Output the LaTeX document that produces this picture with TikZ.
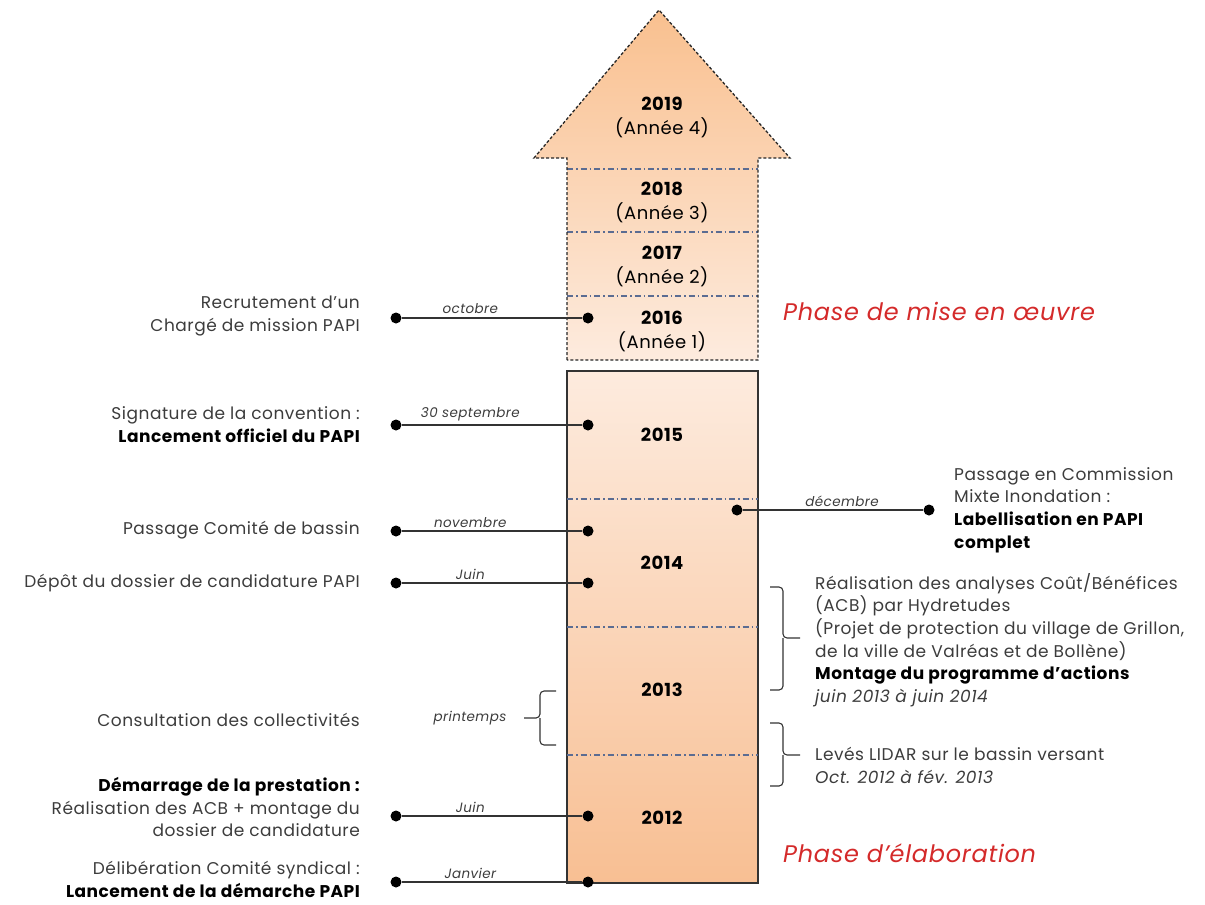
\documentclass[tikz,border=0pt]{standalone}
\usepackage{fontspec}
\setmainfont{Poppins}[LetterSpace=3]
\usetikzlibrary{positioning}
\definecolor{peachtop}{HTML}{F9C08F}
\definecolor{peachlight}{HTML}{FDEBDE}
\definecolor{peachdark}{HTML}{F8BF93}
\definecolor{sepblue}{HTML}{5B6C92}
\definecolor{phasered}{HTML}{D42A2A}
\definecolor{txtgray}{HTML}{3C3C3C}

\begin{document}
\begin{tikzpicture}[x=1pt, y=-1pt,
    dot/.style={circle, fill=black, inner sep=0pt, minimum size=11pt},
    year/.style={font=\fontsize{18}{24}\selectfont\bfseries, align=center},
    month/.style={font=\fontsize{13.5}{16}\selectfont\itshape, text=txtgray, above, pos=0.38},
    lefttxt/.style={anchor=east, align=right, inner sep=0pt, text=txtgray, font=\fontsize{17}{22.6}\selectfont},
    righttxt/.style={anchor=west, align=left, inner sep=0pt, text=txtgray, font=\fontsize{17}{22.6}\selectfont},
    phase/.style={anchor=west, inner sep=0pt, text=phasered, font=\fontsize{24}{28}\selectfont\itshape},
    sep/.style={sepblue, line width=1.1pt, dash pattern=on 6pt off 3pt on 1.5pt off 3pt},
    tie/.style={black!80, line width=1.1pt},
    bracket/.style={black!80, line width=1.1pt, rounded corners=4pt}]
  \useasboundingbox (0,0) rectangle (1205,905);

  % upper arrow: phase de mise en oeuvre
  \path[top color=peachtop, middle color=peachlight!90!peachtop, bottom color=peachlight]
    (567,360) -- (567,158) -- (534,158) -- (659,10) -- (790,158) -- (758,158) -- (758,360) -- cycle;
  \draw[sep] (567,169) -- (758,169);
  \draw[sep] (567,232) -- (758,232);
  \draw[sep] (567,296) -- (758,296);
  \draw[black!85, line width=1.3pt, densely dashed]
    (567,360) -- (567,158) -- (534,158) -- (659,10) -- (790,158) -- (758,158) -- (758,360) -- cycle;

  % lower box: phase d'elaboration
  \draw[black!80, line width=1.4pt, top color=peachlight, bottom color=peachdark]
    (567,371) rectangle (758,883);
  \draw[sep] (567,499) -- (758,499);
  \draw[sep] (567,627) -- (758,627);
  \draw[sep] (567,755) -- (758,755);

  % years
  \node[year] (y2019) at (662,117) {2019\\\mdseries(Année 4)};
  \node[year] (y2018) at (662,202) {2018\\\mdseries(Année 3)};
  \node[year] (y2017) at (662,266) {2017\\\mdseries(Année 2)};
  \node[year] (y2016) at (662,331) {2016\\\mdseries(Année 1)};
  \node[year] (y2015) at (662,435) {2015};
  \node[year] (y2014) at (662,563) {2014};
  \node[year] (y2013) at (662,690) {2013};
  \node[year] (y2012) at (662,818) {2012};

  % event dots
  \node[dot] (recrutL) at (396,318) {};
  \node[dot] (recrutR) at (588,318) {};
  \node[dot] (signL) at (396,425) {};
  \node[dot] (signR) at (588,425) {};
  \node[dot] (comiteL) at (396,531) {};
  \node[dot] (comiteR) at (588,531) {};
  \node[dot] (depotL) at (396,583) {};
  \node[dot] (depotR) at (588,583) {};
  \node[dot] (prestaL) at (396,816) {};
  \node[dot] (prestaR) at (588,816) {};
  \node[dot] (delibL) at (396,882) {};
  \node[dot] (delibR) at (588,882) {};
  \node[dot] (cmiL) at (737,510) {};
  \node[dot] (cmiR) at (929,510) {};

  \draw[tie] (recrutL) -- node[month] {octobre} (recrutR);
  \draw[tie] (signL) -- node[month] {30 septembre} (signR);
  \draw[tie] (comiteL) -- node[month] {novembre} (comiteR);
  \draw[tie] (depotL) -- node[month] {Juin} (depotR);
  \draw[tie] (prestaL) -- node[month] {Juin} (prestaR);
  \draw[tie] (delibL) -- node[month] {Janvier} (delibR);
  \draw[tie] (cmiL) -- node[month, pos=0.55] {décembre} (cmiR);

  % left events
  \node[lefttxt] (recrut) at (360,316) {Recrutement d’un\\Chargé de mission PAPI};
  \node[lefttxt] (sign) at (360,424.5) {Signature de la convention :\\\textcolor{black}{\bfseries Lancement officiel du PAPI}};
  \node[lefttxt] (comite) at (360,530) {Passage Comité de bassin};
  \node[lefttxt] (depot) at (360,583) {Dépôt du dossier de candidature PAPI};
  \node[lefttxt] (consult) at (360,720) {Consultation des collectivités};
  \node[lefttxt] (presta) at (360,807) {\textcolor{black}{\bfseries Démarrage de la prestation :}\\Réalisation des ACB + montage du\\dossier de candidature};
  \node[lefttxt] (delib) at (360,879.5) {Délibération Comité syndical :\\\textcolor{black}{\bfseries Lancement de la démarche PAPI}};

  % printemps bracket
  \node[font=\fontsize{13.5}{16}\selectfont\itshape, text=txtgray] (printemps) at (470,718) {printemps};
  \draw[bracket] (556,691) -| (540,718) -- (524,718);
  \draw[bracket] (540,718) |- (556,745);

  % right events
  \node[righttxt] (cmi) at (954,510) {Passage en Commission\\Mixte Inondation :\\\textcolor{black}{\bfseries Labellisation en PAPI}\\\textcolor{black}{\bfseries complet}};
  \draw[bracket] (770,587) -| (783,638) -- (800,638);
  \draw[bracket] (783,638) |- (770,690);
  \node[righttxt] (acb) at (815,640) {Réalisation des analyses Coût/Bénéfices\\(ACB) par Hydretudes\\(Projet de protection du village de Grillon,\\de la ville de Valréas et de Bollène)\\\textcolor{black}{\bfseries Montage du programme d’actions}\\\itshape juin 2013 à juin 2014};
  \draw[bracket] (770,723) -| (783,755) -- (800,755);
  \draw[bracket] (783,755) |- (770,786);
  \node[righttxt] (lidar) at (815,765.5) {Levés LIDAR sur le bassin versant\\\itshape Oct. 2012 à fév. 2013};

  % phases
  \node[phase] (mise) at (783,311) {Phase de mise en œuvre};
  \node[phase] (elab) at (783,853) {Phase d’élaboration};
\end{tikzpicture}
\end{document}
